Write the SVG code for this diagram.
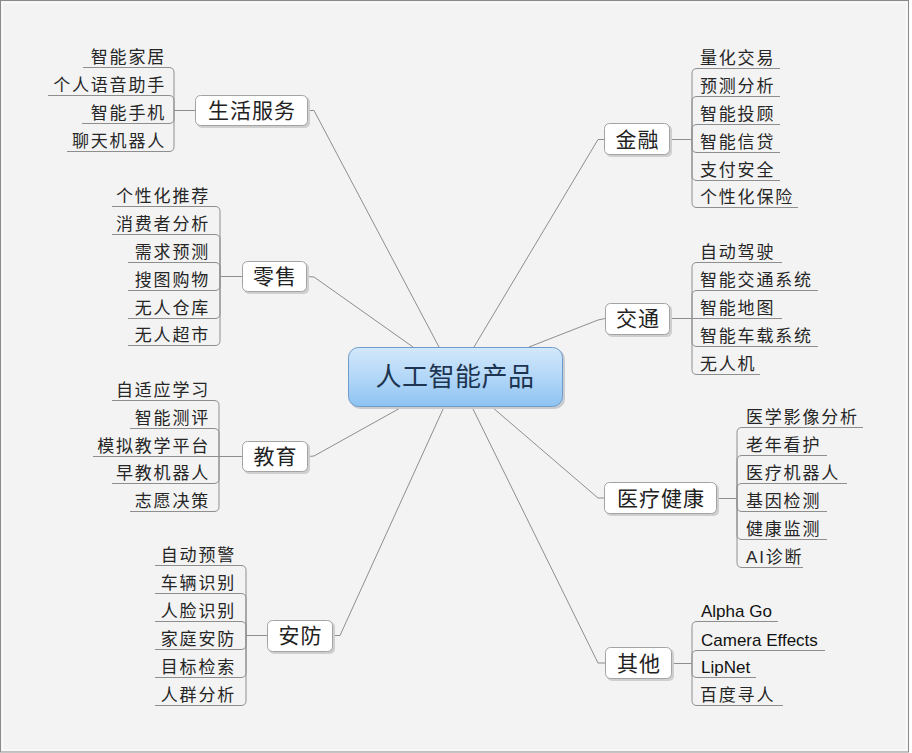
<svg xmlns="http://www.w3.org/2000/svg" width="912" height="753" viewBox="0 0 912 753">
<defs>
<linearGradient id="gc" x1="0" y1="0" x2="0" y2="1">
<stop offset="0" stop-color="#d3e8fb"/>
<stop offset="0.5" stop-color="#b3d7f8"/>
<stop offset="1" stop-color="#8dc3f1"/>
</linearGradient>
<style>
.ln{fill:none;stroke:#8e8e8e;stroke-width:1}
.ul{fill:none;stroke:#8e8e8e;stroke-width:1}
.box{fill:#ffffff;stroke:#a3a3a3;stroke-width:1}
.sh{fill:#cfcfcf}
.mt{font-family:"Noto Sans CJK SC","Liberation Sans",sans-serif;font-size:21px;fill:#222;text-anchor:middle;letter-spacing:1px}
.lf{font-family:"Liberation Sans","Noto Sans CJK SC",sans-serif;font-size:17px;fill:#262626;letter-spacing:1.8px}
.lfe{font-family:"Liberation Sans","Noto Sans CJK SC",sans-serif;font-size:17px;fill:#111;letter-spacing:0}
.L{text-anchor:end}
</style>
</defs>
<rect x="0" y="0" width="912" height="753" fill="#ffffff"/>
<rect x="0.5" y="0.5" width="908" height="751.5" fill="#f3f3f3" stroke="#8a8a8a" stroke-width="1"/>
<rect x="2.5" y="2.5" width="904" height="747.5" fill="none" stroke="#fbfbfb" stroke-width="1"/>

<g id="connectors">
<!-- central to main -->
<path class="ln" d="M439,347 L314,110.5 H308"/>
<path class="ln" d="M413,347 L314,277 L307,276.5"/>
<path class="ln" d="M402,407 L314,456 L308,456.5"/>
<path class="ln" d="M444,407 L340,635.5 H333"/>
<path class="ln" d="M474,347 L598,139.5 H604"/>
<path class="ln" d="M529,347 L598,320 L605,318.5"/>
<path class="ln" d="M492,407 L598,498 H604"/>
<path class="ln" d="M472,407 L598,663 H605"/>
<!-- 生活服务 -->
<path class="ln" d="M195,110.5H174V72.5Q174,67.5 169,67.5"/>
<path class="ln" d="M195,110.5H174V100.5Q174,95.5 169,95.5"/>
<path class="ln" d="M195,110.5H174V118.5Q174,123.5 169,123.5"/>
<path class="ln" d="M195,110.5H174V146.5Q174,151.5 169,151.5"/>
<!-- 零售 -->
<path class="ln" d="M242,276.5H220V211.5Q220,206.5 215,206.5"/>
<path class="ln" d="M242,276.5H220V239.5Q220,234.5 215,234.5"/>
<path class="ln" d="M242,276.5H220V267.5Q220,262.5 215,262.5"/>
<path class="ln" d="M242,276.5H220V285.5Q220,290.5 215,290.5"/>
<path class="ln" d="M242,276.5H220V313.5Q220,318.5 215,318.5"/>
<path class="ln" d="M242,276.5H220V340.5Q220,345.5 215,345.5"/>
<!-- 教育 -->
<path class="ln" d="M242,456.5H219V405.5Q219,400.5 214,400.5"/>
<path class="ln" d="M242,456.5H219V433.5Q219,428.5 214,428.5"/>
<path class="ln" d="M242,456.5H214"/>
<path class="ln" d="M242,456.5H219V478.5Q219,483.5 214,483.5"/>
<path class="ln" d="M242,456.5H219V506.5Q219,511.5 214,511.5"/>
<!-- 安防 -->
<path class="ln" d="M267,635.5H246V570.5Q246,565.5 241,565.5"/>
<path class="ln" d="M267,635.5H246V598.5Q246,593.5 241,593.5"/>
<path class="ln" d="M267,635.5H246V626.5Q246,621.5 241,621.5"/>
<path class="ln" d="M267,635.5H246V644.5Q246,649.5 241,649.5"/>
<path class="ln" d="M267,635.5H246V672.5Q246,677.5 241,677.5"/>
<path class="ln" d="M267,635.5H246V700.5Q246,705.5 241,705.5"/>
<!-- 金融 -->
<path class="ln" d="M670,139.5H692V73.5Q692,68.5 697,68.5"/>
<path class="ln" d="M670,139.5H692V101.5Q692,96.5 697,96.5"/>
<path class="ln" d="M670,139.5H692V129.5Q692,124.5 697,124.5"/>
<path class="ln" d="M670,139.5H692V147.5Q692,152.5 697,152.5"/>
<path class="ln" d="M670,139.5H692V175.5Q692,180.5 697,180.5"/>
<path class="ln" d="M670,139.5H692V202.5Q692,207.5 697,207.5"/>
<!-- 交通 -->
<path class="ln" d="M670,318.5H692V267.5Q692,262.5 697,262.5"/>
<path class="ln" d="M670,318.5H692V295.5Q692,290.5 697,290.5"/>
<path class="ln" d="M670,318.5H697"/>
<path class="ln" d="M670,318.5H692V341.5Q692,346.5 697,346.5"/>
<path class="ln" d="M670,318.5H692V369.5Q692,374.5 697,374.5"/>
<!-- 医疗健康 -->
<path class="ln" d="M717,498.5H737V432.5Q737,427.5 742,427.5"/>
<path class="ln" d="M717,498.5H737V460.5Q737,455.5 742,455.5"/>
<path class="ln" d="M717,498.5H737V488.5Q737,483.5 742,483.5"/>
<path class="ln" d="M717,498.5H737V506.5Q737,511.5 742,511.5"/>
<path class="ln" d="M717,498.5H737V534.5Q737,539.5 742,539.5"/>
<path class="ln" d="M717,498.5H737V562.5Q737,567.5 742,567.5"/>
<!-- 其他 -->
<path class="ln" d="M672,663.5H692V626.5Q692,621.5 697,621.5"/>
<path class="ln" d="M672,663.5H692V655.5Q692,650.5 697,650.5"/>
<path class="ln" d="M672,663.5H692V672.5Q692,677.5 697,677.5"/>
<path class="ln" d="M672,663.5H692V700.5Q692,705.5 697,705.5"/>
</g>

<g id="center">
<rect x="350" y="349" width="215" height="60" rx="10" fill="#c9ccd0"/>
<rect x="348.5" y="347.5" width="214" height="59" rx="10" fill="url(#gc)" stroke="#6e9bc9" stroke-width="1"/>
<text x="455" y="385.5" font-family="Noto Sans CJK SC,sans-serif" font-size="26" fill="#1d3550" text-anchor="middle" letter-spacing="0.5">人工智能产品</text>
</g>

<g id="n-shenghuo">
<rect class="sh" x="197" y="97" width="113" height="31" rx="5"/>
<rect class="box" x="195.5" y="95.5" width="112" height="30" rx="5"/>
<text class="mt" x="252" y="117.5">生活服务</text>
</g>
<g id="n-lingshou">
<rect class="sh" x="244" y="263" width="65" height="31" rx="5"/>
<rect class="box" x="242.5" y="261.5" width="64" height="30" rx="5"/>
<text class="mt" x="275" y="283.5">零售</text>
</g>
<g id="n-jiaoyu">
<rect class="sh" x="244" y="443" width="66" height="31" rx="5"/>
<rect class="box" x="242.5" y="441.5" width="65" height="30" rx="5"/>
<text class="mt" x="275.5" y="463.5">教育</text>
</g>
<g id="n-anfang">
<rect class="sh" x="269" y="622" width="66" height="32" rx="5"/>
<rect class="box" x="267.5" y="620.5" width="65" height="31" rx="5"/>
<text class="mt" x="300.5" y="643">安防</text>
</g>
<g id="n-jinrong">
<rect class="sh" x="606" y="125" width="66" height="32" rx="5"/>
<rect class="box" x="604.5" y="123.5" width="65" height="31" rx="5"/>
<text class="mt" x="637.5" y="146.5">金融</text>
</g>
<g id="n-jiaotong">
<rect class="sh" x="607" y="305" width="65" height="32" rx="5"/>
<rect class="box" x="605.5" y="303.5" width="64" height="31" rx="5"/>
<text class="mt" x="638" y="326">交通</text>
</g>
<g id="n-yiliao">
<rect class="sh" x="606" y="484" width="113" height="32" rx="5"/>
<rect class="box" x="604.5" y="482.5" width="112" height="31" rx="5"/>
<text class="mt" x="661" y="505.5">医疗健康</text>
</g>
<g id="n-qita">
<rect class="sh" x="607" y="649" width="67" height="32" rx="5"/>
<rect class="box" x="605.5" y="647.5" width="66" height="31" rx="5"/>
<text class="mt" x="639" y="670.5">其他</text>
</g>

<!-- 生活服务 leaves -->
<g id="l-sh1"><path class="ul" d="M83,67.5H169"/><text class="lf L" x="166" y="63">智能家居</text></g>
<g id="l-sh2"><path class="ul" d="M48,95.5H169"/><text class="lf L" x="166" y="91">个人语音助手</text></g>
<g id="l-sh3"><path class="ul" d="M82,123.5H169"/><text class="lf L" x="166" y="119">智能手机</text></g>
<g id="l-sh4"><path class="ul" d="M67,151.5H169"/><text class="lf L" x="166" y="147">聊天机器人</text></g>

<!-- 零售 leaves -->
<g id="l-ls1"><path class="ul" d="M112,206.5H215"/><text class="lf L" x="210" y="202">个性化推荐</text></g>
<g id="l-ls2"><path class="ul" d="M112,234.5H215"/><text class="lf L" x="210" y="230">消费者分析</text></g>
<g id="l-ls3"><path class="ul" d="M128,262.5H215"/><text class="lf L" x="210" y="258">需求预测</text></g>
<g id="l-ls4"><path class="ul" d="M128,290.5H215"/><text class="lf L" x="210" y="286">搜图购物</text></g>
<g id="l-ls5"><path class="ul" d="M128,318.5H215"/><text class="lf L" x="210" y="314">无人仓库</text></g>
<g id="l-ls6"><path class="ul" d="M128,345.5H215"/><text class="lf L" x="210" y="341">无人超市</text></g>

<!-- 教育 leaves -->
<g id="l-jy1"><path class="ul" d="M112,400.5H214"/><text class="lf L" x="210" y="396">自适应学习</text></g>
<g id="l-jy2"><path class="ul" d="M130,428.5H214"/><text class="lf L" x="210" y="424">智能测评</text></g>
<g id="l-jy3"><path class="ul" d="M93,456.5H214"/><text class="lf L" x="210" y="452">模拟教学平台</text></g>
<g id="l-jy4"><path class="ul" d="M112,483.5H214"/><text class="lf L" x="210" y="479">早教机器人</text></g>
<g id="l-jy5"><path class="ul" d="M130,511.5H214"/><text class="lf L" x="210" y="507">志愿决策</text></g>

<!-- 安防 leaves -->
<g id="l-af1"><path class="ul" d="M155,565.5H241"/><text class="lf L" x="236" y="561">自动预警</text></g>
<g id="l-af2"><path class="ul" d="M155,593.5H241"/><text class="lf L" x="236" y="589">车辆识别</text></g>
<g id="l-af3"><path class="ul" d="M155,621.5H241"/><text class="lf L" x="236" y="617">人脸识别</text></g>
<g id="l-af4"><path class="ul" d="M155,649.5H241"/><text class="lf L" x="236" y="645">家庭安防</text></g>
<g id="l-af5"><path class="ul" d="M155,677.5H241"/><text class="lf L" x="236" y="673">目标检索</text></g>
<g id="l-af6"><path class="ul" d="M155,705.5H241"/><text class="lf L" x="236" y="701">人群分析</text></g>

<!-- 金融 leaves -->
<g id="l-jr1"><path class="ul" d="M697,68.5H780"/><text class="lf" x="700" y="64">量化交易</text></g>
<g id="l-jr2"><path class="ul" d="M697,96.5H780"/><text class="lf" x="700" y="92">预测分析</text></g>
<g id="l-jr3"><path class="ul" d="M697,124.5H780"/><text class="lf" x="700" y="120">智能投顾</text></g>
<g id="l-jr4"><path class="ul" d="M697,152.5H780"/><text class="lf" x="700" y="148">智能信贷</text></g>
<g id="l-jr5"><path class="ul" d="M697,180.5H780"/><text class="lf" x="700" y="176">支付安全</text></g>
<g id="l-jr6"><path class="ul" d="M697,207.5H798"/><text class="lf" x="700" y="203">个性化保险</text></g>

<!-- 交通 leaves -->
<g id="l-jt1"><path class="ul" d="M697,262.5H782"/><text class="lf" x="700" y="258">自动驾驶</text></g>
<g id="l-jt2"><path class="ul" d="M697,290.5H818"/><text class="lf" x="700" y="286">智能交通系统</text></g>
<g id="l-jt3"><path class="ul" d="M697,318.5H782"/><text class="lf" x="700" y="314">智能地图</text></g>
<g id="l-jt4"><path class="ul" d="M697,346.5H818"/><text class="lf" x="700" y="342">智能车载系统</text></g>
<g id="l-jt5"><path class="ul" d="M697,374.5H760"/><text class="lf" x="700" y="370">无人机</text></g>

<!-- 医疗健康 leaves -->
<g id="l-yl1"><path class="ul" d="M742,427.5H863"/><text class="lf" x="746" y="423">医学影像分析</text></g>
<g id="l-yl2"><path class="ul" d="M742,455.5H827"/><text class="lf" x="746" y="451">老年看护</text></g>
<g id="l-yl3"><path class="ul" d="M742,483.5H847"/><text class="lf" x="746" y="479">医疗机器人</text></g>
<g id="l-yl4"><path class="ul" d="M742,511.5H827"/><text class="lf" x="746" y="507">基因检测</text></g>
<g id="l-yl5"><path class="ul" d="M742,539.5H827"/><text class="lf" x="746" y="535">健康监测</text></g>
<g id="l-yl6"><path class="ul" d="M742,567.5H803"/><text class="lf" x="746" y="563" letter-spacing="0.6">AI诊断</text></g>

<!-- 其他 leaves -->
<g id="l-qt1"><path class="ul" d="M697,621.5H778"/><text class="lfe" x="701" y="617">Alpha Go</text></g>
<g id="l-qt2"><path class="ul" d="M697,650.5H825"/><text class="lfe" x="701" y="646">Camera Effects</text></g>
<g id="l-qt3"><path class="ul" d="M697,677.5H756"/><text class="lfe" x="701" y="673">LipNet</text></g>
<g id="l-qt4"><path class="ul" d="M697,705.5H783"/><text class="lf" x="700" y="701">百度寻人</text></g>
</svg>
